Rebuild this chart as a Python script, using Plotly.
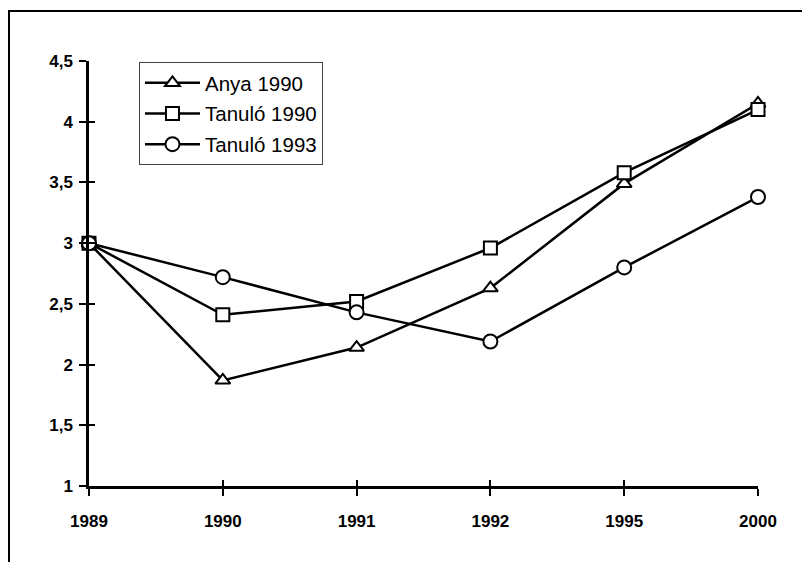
import plotly.graph_objects as go

years = ["1989", "1990", "1991", "1992", "1995", "2000"]
anya_1990 = [3, 1.87, 2.14, 2.63, 3.49, 4.15]
tanulo_1990 = [3, 2.41, 2.52, 2.96, 3.58, 4.10]
tanulo_1993 = [3, 2.72, 2.43, 2.19, 2.80, 3.38]
y_ticks = [1, 1.5, 2, 2.5, 3, 3.5, 4, 4.5]
y_labels = ["1", "1,5", "2", "2,5", "3", "3,5", "4", "4,5"]

FONT = "Liberation Sans, Arial, sans-serif"
xpos = list(range(len(years)))

series = [
    ("Anya 1990", anya_1990, "triangle-up", 13),
    ("Tanuló 1990", tanulo_1990, "square", 13),
    ("Tanuló 1993", tanulo_1993, "circle", 14),
]

fig = go.Figure()
for i, (name, vals, sym, size) in enumerate(series):
    fig.add_trace(go.Scatter(
        x=xpos, y=vals, name=name, mode="lines+markers",
        legendgroup=f"g{i}",
        line=dict(color="black", width=2.5),
        marker=dict(symbol=sym, size=size, color="white",
                    line=dict(color="black", width=2)),
        cliponaxis=False,
    ))

# invisible trace so the overlay axes (inside half of the crossing ticks) get drawn
fig.add_trace(go.Scatter(x=[0], y=[1], xaxis="x2", yaxis="y2", mode="markers",
                         marker=dict(opacity=0), showlegend=False, hoverinfo="skip"))

axis_common = dict(showgrid=False, zeroline=False, linecolor="black", linewidth=2.5,
                   tickcolor="black", tickwidth=2)

# the page body has an 8px margin, so the margins are shifted by that amount
fig.update_layout(
    width=810, height=562,
    margin=dict(l=81, r=60, t=53, b=84),
    paper_bgcolor="white", plot_bgcolor="white",
    font=dict(family=FONT, color="black"),
    showlegend=True,
    xaxis=dict(range=[0, 5], tickvals=xpos, ticktext=years, ticks="outside", ticklen=7,
               tickfont=dict(size=17, weight="bold", family=FONT), ticklabelstandoff=11,
               **axis_common),
    yaxis=dict(range=[1, 4.5], tickvals=y_ticks, ticktext=y_labels, ticks="outside", ticklen=7,
               tickfont=dict(size=17, weight="bold", family=FONT), ticklabelstandoff=3,
               **axis_common),
    xaxis2=dict(range=[0, 5], overlaying="x", tickvals=xpos, ticks="inside", ticklen=6,
                showticklabels=False, **axis_common),
    yaxis2=dict(range=[1, 4.5], overlaying="y", tickvals=y_ticks, ticks="inside", ticklen=6,
                showticklabels=False, **axis_common),
    legend=dict(x=0.0747, y=0.9976, xanchor="left", yanchor="top",
                bgcolor="white", bordercolor="#444", borderwidth=1,
                font=dict(size=20.5, family=FONT, color="black"),
                itemwidth=55,
                traceorder="grouped", tracegroupgap=1),
)

# outer chart frame, open to the right and bottom of the window
fig.add_shape(type="rect", xref="paper", yref="paper",
              x0=-0.1196, y0=-0.4, x1=1.2, y1=1.1176,
              line=dict(color="black", width=2), layer="below")

fig.write_html("out.html")
